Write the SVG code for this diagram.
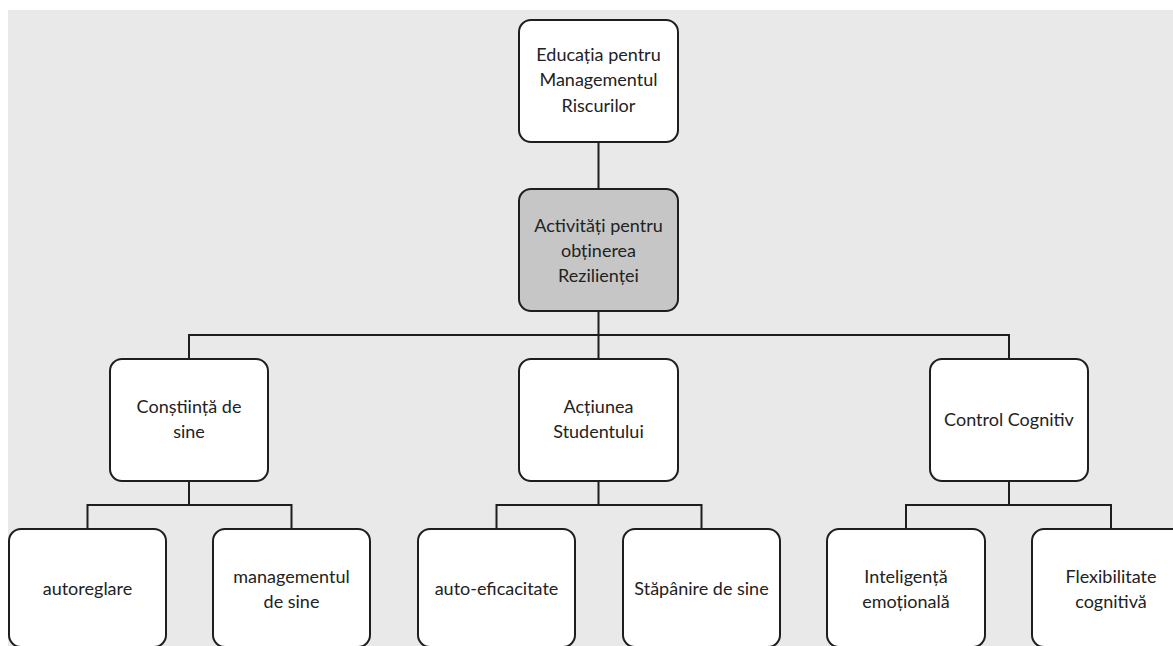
<svg xmlns="http://www.w3.org/2000/svg" width="1173" height="646" viewBox="0 0 1173 646">
<style>
.box{fill:#ffffff;stroke:#1e1e1e;stroke-width:2}
.dark{fill:#c6c6c6}
.t{font-family:Lato,"Open Sans","Liberation Sans",sans-serif;font-size:18px;fill:#222;text-anchor:middle}
.c{stroke:#1e1e1e;stroke-width:2;fill:none}
</style>
<rect x="0" y="0" width="1173" height="646" fill="#ffffff"/>
<rect x="8" y="10" width="1165" height="636" fill="#e9e9e9"/>
<g id="connectors">
<path class="c" d="M598.5 142V189M598.5 311V359M189 359V335H1009V359"/>
<path class="c" d="M189 481V505M87.5 529V505H291.5V529"/>
<path class="c" d="M598.5 481V505M496.5 529V505H701.5V529"/>
<path class="c" d="M1009 481V505M906 529V505H1111V529"/>
</g>
<g id="n-root"><rect class="box" x="519" y="20" width="159" height="122" rx="12"/>
<text class="t" x="598.5" y="61">Educația pentru</text><text class="t" x="598.5" y="86">Managementul</text><text class="t" x="598.5" y="112">Riscurilor</text></g>
<g id="n-activ"><rect class="box dark" x="519" y="189" width="159" height="122" rx="12"/>
<text class="t" x="598.5" y="232">Activități pentru</text><text class="t" x="598.5" y="257">obținerea</text><text class="t" x="598.5" y="282">Rezilienței</text></g>
<g id="n-constiinta"><rect class="box" x="110" y="359" width="158" height="122" rx="12"/>
<text class="t" x="189" y="413">Conștiință de</text><text class="t" x="189" y="438">sine</text></g>
<g id="n-actiunea"><rect class="box" x="519" y="359" width="159" height="122" rx="12"/>
<text class="t" x="598.5" y="413">Acțiunea</text><text class="t" x="598.5" y="438">Studentului</text></g>
<g id="n-control"><rect class="box" x="930" y="359" width="158" height="122" rx="12"/>
<text class="t" x="1009" y="426">Control Cognitiv</text></g>
<g id="n-autoreglare"><rect class="box" x="9" y="529" width="157" height="118" rx="12"/>
<text class="t" x="87.5" y="595">autoreglare</text></g>
<g id="n-management"><rect class="box" x="213" y="529" width="157" height="118" rx="12"/>
<text class="t" x="291.5" y="583">managementul</text><text class="t" x="291.5" y="608">de sine</text></g>
<g id="n-autoeficacitate"><rect class="box" x="418" y="529" width="157" height="118" rx="12"/>
<text class="t" x="496.5" y="595">auto-eficacitate</text></g>
<g id="n-stapanire"><rect class="box" x="623" y="529" width="157" height="118" rx="12"/>
<text class="t" x="701.5" y="595">Stăpânire de sine</text></g>
<g id="n-inteligenta"><rect class="box" x="827" y="529" width="158" height="118" rx="12"/>
<text class="t" x="906" y="583">Inteligență</text><text class="t" x="906" y="608">emoțională</text></g>
<g id="n-flexibilitate"><rect class="box" x="1032" y="529" width="158" height="118" rx="12"/>
<text class="t" x="1111" y="583">Flexibilitate</text><text class="t" x="1111" y="608">cognitivă</text></g>
</svg>
